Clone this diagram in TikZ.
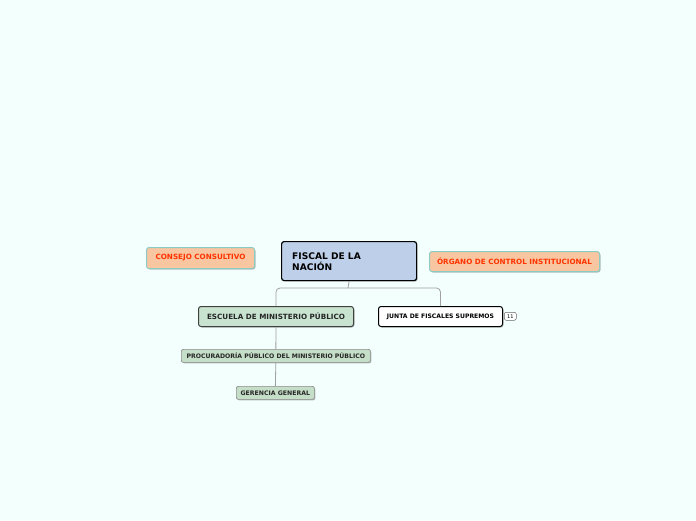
\documentclass[tikz,border=0pt]{standalone}
\usepackage{fontspec}
\setmainfont{DejaVu Sans}
\usetikzlibrary{shadows}
\definecolor{bg}{HTML}{F2FFFC}
\definecolor{mainfill}{HTML}{BDCFE9}
\definecolor{peach}{HTML}{F8C6A0}
\definecolor{peachborder}{HTML}{8CCBC4}
\definecolor{redtext}{HTML}{FF3300}
\definecolor{greenfill}{HTML}{C8E4D0}
\definecolor{lightgreen}{HTML}{C5DEC8}
\definecolor{linegray}{HTML}{A0A0A0}
\tikzset{
  box/.style={rectangle, rounded corners=2.5pt, inner sep=0pt, font=\bfseries, anchor=north west},
  shad/.style={drop shadow={shadow xshift=1pt, shadow yshift=-1pt, opacity=0.25, fill=black}},
  conn/.style={draw=linegray, line width=0.8pt, rounded corners=4pt},
}
\begin{document}
\begin{tikzpicture}[x=1pt,y=-1pt]
\fill[bg] (0,0) rectangle (696,520);
\useasboundingbox (0,0) rectangle (696,520);
% main node
\node[box, shad, fill=mainfill, draw=black, line width=1.2pt, minimum width=135pt, minimum height=39pt] (main) at (281,241) {};
\node[anchor=west, inner sep=0pt, font=\bfseries\fontsize{9.1}{10.6}\selectfont, align=left] (maintext) at (292,261.5) {FISCAL DE LA\\NACIÓN};
% consejo
\node[box, shad, fill=peach, draw=peachborder, line width=1pt, minimum width=108pt, minimum height=21pt, text=redtext, font=\bfseries\fontsize{7.2}{8}\selectfont] (consejo) at (146,247) {CONSEJO CONSULTIVO};
% organo
\node[box, shad, fill=peach, draw=peachborder, line width=1pt, minimum width=170pt, minimum height=20pt, text=redtext, font=\bfseries\fontsize{7.2}{8}\selectfont] (organo) at (429,251) {ÓRGANO DE CONTROL INSTITUCIONAL};
% escuela
\node[box, shad, fill=greenfill, draw=black!75, line width=1pt, minimum width=155pt, minimum height=20pt, text=black!85, font=\bfseries\fontsize{7.2}{8}\selectfont] (escuela) at (198,306) {ESCUELA DE MINISTERIO PÚBLICO};
% junta
\node[box, shad, fill=white, draw=black, line width=1pt, minimum width=124pt, minimum height=20pt, font=\bfseries\fontsize{6.1}{7}\selectfont] (junta) at (378,306) {JUNTA DE FISCALES SUPREMOS};
% badge
\node[box, fill=white, draw=black!60, line width=0.5pt, rounded corners=2pt, minimum width=12pt, minimum height=8pt, font=\fontsize{5}{6}\selectfont] (badge) at (504,312) {11};
% procuradoria
\node[box, shad, fill=lightgreen, draw=black!45, line width=0.7pt, rounded corners=2pt, minimum width=189pt, minimum height=13pt, text=black!85, font=\bfseries\fontsize{6.15}{7}\selectfont] (procu) at (181,349) {PROCURADORÍA PÚBLICO DEL MINISTERIO PÚBLICO};
% gerencia
\node[box, shad, fill=lightgreen, draw=black!45, line width=0.7pt, rounded corners=2pt, minimum width=78pt, minimum height=13pt, text=black!85, font=\bfseries\fontsize{6.2}{7}\selectfont] (geren) at (236,386) {GERENCIA GENERAL};
% connectors
\coordinate (split) at (348,288);
\draw[linegray, line width=0.8pt] (main.south) -- (split);
\draw[conn] (split) -| (escuela.north);
\draw[conn] (split) -| (junta.north);
\draw[linegray, line width=0.8pt] (escuela.south) -- (procu.north);
\draw[linegray, line width=0.8pt] (procu.south) -- (geren.north);
\end{tikzpicture}
\end{document}
